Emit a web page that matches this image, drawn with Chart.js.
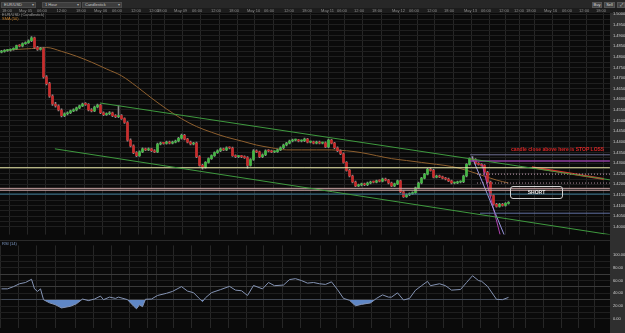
<!DOCTYPE html>
<html><head><meta charset="utf-8">
<script src="https://cdn.jsdelivr.net/npm/chart.js@4.4.1/dist/chart.umd.min.js"></script>
<style>
html,body{margin:0;padding:0;background:#0a0a0a;width:625px;height:333px;overflow:hidden;font-family:"Liberation Sans",Arial,sans-serif;}
.a{position:absolute;}
#toolbar{left:0;top:0;width:625px;height:8px;background:#272727;}
#strip{left:0;top:8px;width:625px;height:5px;background:#1c1c1c;}
#axisPanel{left:610px;top:13px;width:15px;height:320px;background:#2f2f2f;}
.dd{position:absolute;top:2px;height:6px;background:#3d3d3d;border:1px solid #4c4c4c;box-sizing:border-box;color:#c8c8c8;font-size:4px;line-height:4px;padding-left:2px;white-space:nowrap;}
.dd span{position:absolute;right:1px;top:0;font-size:4px;color:#aaa;}
.btn{position:absolute;top:2px;height:6px;background:#444;border:1px solid #555;box-sizing:border-box;color:#ddd;font-size:4px;line-height:4px;text-align:center;}
canvas{position:absolute;left:0;}
#main{top:8px;}
#rsi{top:240px;}
.lbl{position:absolute;font-size:4px;line-height:4px;white-space:nowrap;}
#sep{left:0;top:240px;width:610px;height:1px;background:#2a2a2a;}
#stop{left:511px;top:147px;font-size:5px;line-height:5px;color:#d82626;font-weight:bold;white-space:nowrap;}
#short{left:510px;top:186px;width:53px;height:13px;border:1px solid #d0d0d0;border-radius:3px;box-sizing:border-box;color:#e6e6e6;font-size:5px;line-height:11px;text-align:center;font-weight:bold;}
</style></head>
<body>
<div id="toolbar" class="a">
  <div class="dd" style="left:1px;width:35px;">EUR/USD<span>▾</span></div>
  <div class="dd" style="left:42px;width:39px;">1 Hour<span>▾</span></div>
  <div class="dd" style="left:82px;width:40px;">Candlestick<span>▾</span></div>
  <div class="btn" style="left:592px;width:10px;">Buy</div>
  <div class="btn" style="left:604px;width:11px;">Sell</div>
  <div class="btn" style="left:617px;width:8px;">⤢</div>
</div>
<div id="strip" class="a"></div>
<div id="axisPanel" class="a"></div>
<canvas id="main" width="625" height="232"></canvas>
<canvas id="rsi" width="625" height="93"></canvas>
<div id="sep" class="a"></div>
<div class="lbl" style="left:2px;top:13px;color:#9a9a9a;">EUR/USD (Candlestick)</div>
<div class="lbl" style="left:2px;top:17px;color:#c8822e;">SMA (50)</div>
<div class="lbl" style="left:2px;top:242px;color:#7f9cc8;">RSI (14)</div>
<div id="stop" class="a">candle close above here is STOP LOSS</div>
<div id="short" class="a">SHORT</div>
<script>
// ---- data (EUR/USD, 1 hour candles) ----
const opens = [1.4822,1.4826,1.4830,1.4831,1.4835,1.4839,1.4853,1.4851,1.4862,1.4867,
1.4876,1.4890,1.4844,1.4835,1.4839,1.4706,1.4674,1.4615,1.4578,1.4569,
1.4550,1.4523,1.4532,1.4537,1.4546,1.4550,1.4560,1.4569,1.4578,1.4576,
1.4550,1.4546,1.4564,1.4573,1.4537,1.4528,1.4532,1.4537,1.4523,1.4518,
1.4523,1.4509,1.4491,1.4408,1.4381,1.4349,1.4335,1.4353,1.4367,1.4362,
1.4367,1.4358,1.4353,1.4390,1.4394,1.4393,1.4399,1.4394,1.4399,1.4404,
1.4417,1.4431,1.4413,1.4399,1.4390,1.4394,1.4330,1.4289,1.4280,1.4303,
1.4321,1.4335,1.4349,1.4358,1.4367,1.4362,1.4372,1.4371,1.4335,1.4330,
1.4331,1.4330,1.4326,1.4289,1.4317,1.4358,1.4353,1.4330,1.4339,1.4358,
1.4357,1.4353,1.4354,1.4362,1.4372,1.4385,1.4394,1.4404,1.4408,1.4409,
1.4404,1.4405,1.4413,1.4399,1.4400,1.4394,1.4399,1.4394,1.4395,1.4376,
1.4408,1.4394,1.4372,1.4358,1.4344,1.4303,1.4266,1.4239,1.4211,1.4193,
1.4197,1.4202,1.4198,1.4206,1.4211,1.4210,1.4216,1.4215,1.4225,1.4220,
1.4206,1.4193,1.4202,1.4216,1.4165,1.4142,1.4151,1.4156,1.4161,1.4183,
1.4206,1.4229,1.4248,1.4271,1.4266,1.4234,1.4239,1.4235,1.4229,1.4225,
1.4216,1.4206,1.4207,1.4211,1.4212,1.4239,1.4294,1.4321,1.4317,1.4298,
1.4294,1.4289,1.4257,1.4211,1.4147,1.4106,1.4096,1.4106,1.4101,1.4110];
const highs = [1.4831,1.4834,1.4836,1.4838,1.4843,1.4856,1.4858,1.4866,1.4871,1.4880,
1.4896,1.4893,1.4849,1.4845,1.4842,1.4712,1.4680,1.4621,1.4586,1.4574,
1.4555,1.4537,1.4541,1.4550,1.4555,1.4564,1.4573,1.4583,1.4585,1.4580,
1.4556,1.4568,1.4578,1.4577,1.4541,1.4537,1.4542,1.4540,1.4528,1.4569,
1.4528,1.4513,1.4495,1.4414,1.4386,1.4354,1.4358,1.4372,1.4371,1.4372,
1.4371,1.4363,1.4394,1.4399,1.4398,1.4403,1.4404,1.4403,1.4408,1.4421,
1.4437,1.4435,1.4417,1.4404,1.4398,1.4399,1.4335,1.4294,1.4307,1.4325,
1.4339,1.4353,1.4362,1.4372,1.4371,1.4376,1.4377,1.4375,1.4339,1.4335,
1.4336,1.4334,1.4330,1.4321,1.4363,1.4362,1.4357,1.4343,1.4362,1.4363,
1.4361,1.4358,1.4366,1.4376,1.4389,1.4398,1.4408,1.4413,1.4413,1.4412,
1.4409,1.4418,1.4417,1.4404,1.4404,1.4403,1.4403,1.4399,1.4400,1.4413,
1.4412,1.4398,1.4376,1.4362,1.4348,1.4307,1.4270,1.4243,1.4215,1.4201,
1.4206,1.4206,1.4210,1.4215,1.4215,1.4220,1.4221,1.4229,1.4229,1.4224,
1.4210,1.4206,1.4220,1.4220,1.4169,1.4155,1.4160,1.4165,1.4187,1.4210,
1.4233,1.4252,1.4275,1.4276,1.4270,1.4243,1.4243,1.4239,1.4233,1.4229,
1.4220,1.4211,1.4215,1.4216,1.4243,1.4298,1.4325,1.4330,1.4321,1.4302,
1.4298,1.4293,1.4261,1.4215,1.4151,1.4110,1.4110,1.4110,1.4114,1.4119];
const lows = [1.4818,1.4822,1.4826,1.4827,1.4831,1.4835,1.4847,1.4847,1.4858,1.4863,
1.4872,1.4840,1.4830,1.4831,1.4700,1.4668,1.4609,1.4572,1.4563,1.4545,
1.4517,1.4518,1.4527,1.4533,1.4542,1.4546,1.4556,1.4565,1.4571,1.4546,
1.4541,1.4542,1.4560,1.4533,1.4523,1.4524,1.4528,1.4519,1.4514,1.4514,
1.4505,1.4487,1.4403,1.4376,1.4344,1.4330,1.4331,1.4349,1.4358,1.4358,
1.4354,1.4349,1.4349,1.4386,1.4389,1.4389,1.4390,1.4390,1.4395,1.4400,
1.4413,1.4409,1.4395,1.4386,1.4386,1.4326,1.4285,1.4271,1.4276,1.4299,
1.4317,1.4331,1.4345,1.4354,1.4358,1.4358,1.4367,1.4331,1.4326,1.4326,
1.4326,1.4322,1.4276,1.4285,1.4313,1.4349,1.4326,1.4326,1.4335,1.4353,
1.4349,1.4349,1.4350,1.4358,1.4368,1.4381,1.4390,1.4400,1.4404,1.4400,
1.4400,1.4401,1.4395,1.4395,1.4390,1.4390,1.4390,1.4390,1.4372,1.4372,
1.4390,1.4368,1.4354,1.4340,1.4299,1.4262,1.4235,1.4207,1.4189,1.4189,
1.4193,1.4194,1.4194,1.4202,1.4206,1.4206,1.4211,1.4211,1.4216,1.4202,
1.4189,1.4189,1.4198,1.4161,1.4138,1.4138,1.4147,1.4152,1.4157,1.4179,
1.4202,1.4225,1.4244,1.4262,1.4230,1.4230,1.4231,1.4225,1.4221,1.4212,
1.4202,1.4202,1.4203,1.4207,1.4208,1.4235,1.4290,1.4313,1.4294,1.4290,
1.4285,1.4253,1.4207,1.4143,1.4102,1.4092,1.4092,1.4097,1.4097,1.4106];
const closes = [1.4826,1.4830,1.4831,1.4835,1.4839,1.4853,1.4851,1.4862,1.4867,1.4876,
1.4890,1.4844,1.4835,1.4839,1.4706,1.4674,1.4615,1.4578,1.4569,1.4550,
1.4523,1.4532,1.4537,1.4546,1.4550,1.4560,1.4569,1.4578,1.4576,1.4550,
1.4546,1.4564,1.4573,1.4537,1.4528,1.4532,1.4537,1.4523,1.4518,1.4523,
1.4509,1.4491,1.4408,1.4381,1.4349,1.4335,1.4353,1.4367,1.4362,1.4367,
1.4358,1.4353,1.4390,1.4394,1.4393,1.4399,1.4394,1.4399,1.4404,1.4417,
1.4431,1.4413,1.4399,1.4390,1.4394,1.4330,1.4289,1.4280,1.4303,1.4321,
1.4335,1.4349,1.4358,1.4367,1.4362,1.4372,1.4371,1.4335,1.4330,1.4331,
1.4330,1.4326,1.4289,1.4317,1.4358,1.4353,1.4330,1.4339,1.4358,1.4357,
1.4353,1.4354,1.4362,1.4372,1.4385,1.4394,1.4404,1.4408,1.4409,1.4404,
1.4405,1.4413,1.4399,1.4400,1.4394,1.4399,1.4394,1.4395,1.4376,1.4408,
1.4394,1.4372,1.4358,1.4344,1.4303,1.4266,1.4239,1.4211,1.4193,1.4197,
1.4202,1.4198,1.4206,1.4211,1.4210,1.4216,1.4215,1.4225,1.4220,1.4206,
1.4193,1.4202,1.4216,1.4165,1.4142,1.4151,1.4156,1.4161,1.4183,1.4206,
1.4229,1.4248,1.4271,1.4266,1.4234,1.4239,1.4235,1.4229,1.4225,1.4216,
1.4206,1.4207,1.4211,1.4212,1.4239,1.4294,1.4321,1.4317,1.4298,1.4294,
1.4289,1.4257,1.4211,1.4147,1.4106,1.4096,1.4106,1.4101,1.4110,1.4115];

const smaIdx = [1,5,10,15,20,25,30,35,40,45,50,55,60,65,70,75,80,85,90,95,100,105,110,115,120,125,130,135,140,145,150,155,160,165,169];
const smaVal = [1.4830,1.4835,1.4839,1.4844,1.4826,1.4803,1.4775,1.4743,1.4711,1.4661,1.4606,1.4555,1.4509,1.4472,1.4445,1.4422,1.4404,1.4385,1.4372,1.4362,1.4362,1.4362,1.4362,1.4358,1.4349,1.4335,1.4321,1.4312,1.4303,1.4294,1.4284,1.4266,1.4243,1.4220,1.4206];

const rsiIdx = [0,2,4,6,8,10,11,12,13,14,16,18,20,23,25,27,29,31,33,34,36,38,39,42,44,45,46,47,48,50,52,55,57,60,62,64,66,67,68,70,73,76,78,80,82,84,87,89,91,94,96,98,100,102,104,106,108,110,112,114,116,118,120,123,125,127,129,130,132,134,136,138,140,142,143,146,148,150,153,155,157,159,160,162,165,167,169];
const rsiVal = [47,47,50.5,55,57,62,47,43,47,30,25,22,17,19.6,23.6,31,28.5,31,35.6,30,34,32,34,30,20,15.7,22,19,30.7,31,36.6,40,43,50.5,43.5,41,31.5,27,33,41,45.8,50.9,45,44,36.6,52.3,47,57,52,53,61.6,63,60,56,57,55,54,58,45.8,32,29,20.4,22.6,24.9,32,37.5,34,34,40.7,29.5,32,44.9,51.9,58.8,52,55,52,45,46,56.9,67.6,60,59,51,30.5,30,33.6];

// time axis tick positions (in candle slots) and their texts
const tickIdx  = [-0.2,5.5,11.5,18,24.5,30.5,36.5,42.8,48.8,51.5,57.2,63.2,69.5,75.5,81.5,87.2,93.8,99.8,106.2,111.5,117.2,123.2,129.8,135.5,141.5,147.2,153.8,159.5,165.5,170.5,174.5,180.5,186.5,192.2,197.8];
const tickText = ["18:00","May 05","06:00","12:00","18:00","May 06","06:00","12:00","12:00","18:00","May 09","06:00","12:00","18:00","May 10","06:00","12:00","18:00","May 11","06:00","12:00","18:00","May 12","06:00","12:00","18:00","May 13","06:00","12:00","12:00","18:00","May 16","06:00","12:00","18:00"];
const priceLabels = ["1.5000","1.4950","1.4900","1.4850","1.4800","1.4750","1.4700","1.4650","1.4600","1.4550","1.4500","1.4450","1.4400","1.4350","1.4300","1.4250","1.4200","1.4150","1.4100","1.4050","1.4000"];
const rsiLabels = ["100.00","80.00","60.00","40.00","20.00","0.00"];

// drawn study lines: [x0, y0, x1, y1]
const upperChannel = [32.8, 1.4583, 202.8, 1.4221];
const lowerChannel = [17.8, 1.4367, 202.8, 1.3963];
const yellowLevel  = [-0.5, 1.4278, 202.8, 1.4278];
const pinkLevelA   = [-0.5, 1.4181, 202.8, 1.4181];
const pinkLevelB   = [-0.5, 1.4172, 202.8, 1.4172];
const tealLevel    = [-0.5, 1.4154, 202.8, 1.4154];
const slateLevel   = [156.2, 1.4339, 202.8, 1.4339];
const purpleLevel  = [156.2, 1.4310, 202.8, 1.4310];
const dotLevelA    = [158.5, 1.4248, 202.8, 1.4248];
const dotLevelB    = [158.5, 1.4206, 202.8, 1.4206];
const blueLevel    = [159.5, 1.4064, 202.8, 1.4064];
const stopLine     = [176.8, 1.4280, 200.8, 1.4225];
const steepA       = [156.8, 1.4330, 167.8, 1.3954];
const steepB       = [160.2, 1.4294, 166.2, 1.3963];

// ---- chart ----
const GREEN = '#45b845', RED = '#c92c2c';
const bodyData = closes.map((c, i) => ({x: i, y: [opens[i], c]}));
const wickData = closes.map((c, i) => ({x: i, y: [lows[i], highs[i]]}));
const bodyColors = closes.map((c, i) => c >= opens[i] ? GREEN : RED);

function seg(a, color, width, dash) {
  return {type: 'line', data: [{x: a[0], y: a[1]}, {x: a[2], y: a[3]}], borderColor: color,
    borderWidth: width, borderDash: dash || [], pointRadius: 0, fill: false, order: 0};
}
const yVals = priceLabels.map(parseFloat);
const yGrid = [];
yVals.forEach((v, i) => { yGrid.push(v); if (i < yVals.length - 1) yGrid.push((v + yVals[i + 1]) / 2); });

const X_MIN = -0.5, X_MAX = 202.83;
const fontTiny = {size: 4, family: 'Liberation Sans'};

new Chart(document.getElementById('main'), {
  type: 'bar',
  data: {datasets: [
    {type: 'bar', data: wickData, backgroundColor: '#8d8d8d', barThickness: 1, grouped: false, order: 5},
    {type: 'bar', data: bodyData, backgroundColor: bodyColors, barThickness: 2, minBarLength: 1, grouped: false, order: 4},
    {type: 'line', data: smaIdx.map((x, i) => ({x, y: smaVal[i]})), borderColor: '#8e5f2e', borderWidth: 1,
      pointRadius: 0, cubicInterpolationMode: 'monotone', order: 6},
    seg(upperChannel, '#3f9a3f', 1),
    seg(lowerChannel, '#3f9a3f', 1),
    seg(yellowLevel, '#e8e8a8', 1),
    seg(pinkLevelA, '#c9a3a3', 1),
    seg(pinkLevelB, '#c9a3a3', 1),
    seg(tealLevel, '#3d7d99', 1),
    seg(slateLevel, '#6d6f92', 1),
    seg(purpleLevel, '#8f3f9f', 1.5),
    seg(dotLevelA, '#c6a0b6', 1, [1, 2]),
    seg(dotLevelB, '#a98a9a', 1, [1, 2]),
    seg(blueLevel, '#5f6f9f', 1),
    seg(stopLine, '#d82c2c', 2),
    seg(steepA, '#9a98e0', 1),
    seg(steepB, '#b040b0', 1)
  ]},
  options: {
    responsive: false, animation: false, devicePixelRatio: 1,
    layout: {padding: 0},
    plugins: {legend: {display: false}, tooltip: {enabled: false}},
    scales: {
      x: {type: 'linear', position: 'top', min: X_MIN, max: X_MAX, offset: false,
        afterBuildTicks: s => { s.ticks = tickIdx.map(v => ({value: v})); },
        afterFit: s => { s.height = 5; },
        ticks: {autoSkip: false, maxRotation: 0, minRotation: 0, align: 'start', padding: 0, labelOffset: 1,
          color: '#8e8e8e', font: fontTiny, callback: (v, i) => tickText[i]},
        grid: {color: '#262626', drawTicks: false},
        border: {display: false}},
      y: {type: 'linear', position: 'right', min: 1.39633, max: 1.50046,
        afterBuildTicks: s => { s.ticks = yGrid.map(v => ({value: v})); },
        afterFit: s => { s.width = 15; },
        ticks: {autoSkip: false, padding: 3, color: '#cfcfcf', font: fontTiny,
          callback: v => { const t = v.toFixed(4); return priceLabels.includes(t) ? t : ''; }},
        grid: {color: '#1f1f1f', drawTicks: false},
        border: {display: false}}
    }
  }
});

const rsiGrid = [0,10,20,30,40,50,60,70,80,90,100];
new Chart(document.getElementById('rsi'), {
  type: 'line',
  data: {datasets: [
    {data: rsiIdx.map((x, i) => ({x, y: rsiVal[i]})), borderColor: '#8594b4', borderWidth: 1, pointRadius: 0,
      fill: {target: {value: 30}, above: 'rgba(0,0,0,0)', below: '#5f87c6'}}
  ]},
  options: {
    responsive: false, animation: false, devicePixelRatio: 1,
    layout: {padding: 0},
    plugins: {legend: {display: false}, tooltip: {enabled: false}},
    scales: {
      x: {type: 'linear', position: 'bottom', min: X_MIN, max: X_MAX, offset: false,
        afterBuildTicks: s => { s.ticks = tickIdx.map(v => ({value: v})); },
        afterFit: s => { s.height = 0; },
        ticks: {display: false},
        grid: {color: '#262626', drawTicks: false},
        border: {display: false}},
      y: {type: 'linear', position: 'right', min: -13.9, max: 115.3,
        afterBuildTicks: s => { s.ticks = rsiGrid.map(v => ({value: v})); },
        afterFit: s => { s.width = 15; },
        ticks: {autoSkip: false, padding: 3, color: '#cfcfcf', font: fontTiny,
          callback: v => { const k = rsiLabels.indexOf(v.toFixed(2)); return k >= 0 ? rsiLabels[k] : ''; }},
        grid: {color: c => (c.tick && (c.tick.value === 30 || c.tick.value === 70 || c.tick.value === 50)) ? '#3a3a3a' : '#1f1f1f', drawTicks: false},
        border: {display: false}}
    }
  }
});
</script>
</body></html>
